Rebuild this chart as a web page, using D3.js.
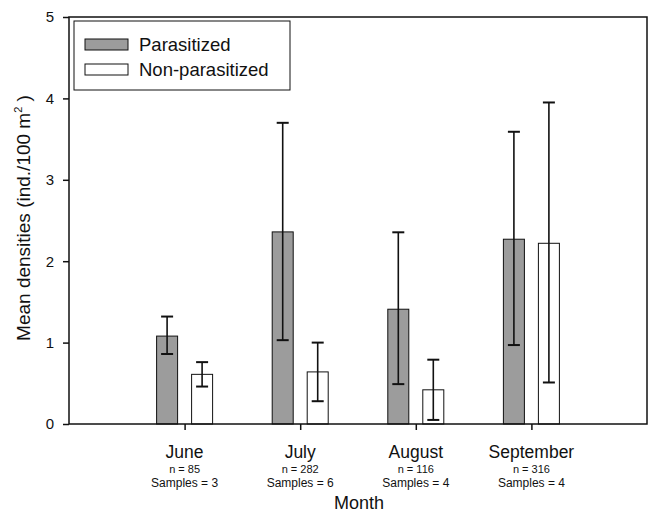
<!DOCTYPE html>
<html><head><meta charset="utf-8">
<script src="https://cdn.jsdelivr.net/npm/d3@7"></script>
<style>body{margin:0;background:#fff}svg{display:block}text{font-family:"Liberation Sans",Arial,sans-serif;fill:#111}</style>
</head><body>
<script>
const months = ["June","July","August","September"];
const nLabels = ["n = 85","n = 282","n = 116","n = 316"];
const sampleLabels = ["Samples = 3","Samples = 6","Samples = 4","Samples = 4"];
const parasitized = [1.08, 2.36, 1.41, 2.27];
const parasitizedHigh = [1.32, 3.70, 2.355, 3.59];
const parasitizedLow = [0.86, 1.03, 0.49, 0.97];
const nonParasitized = [0.61, 0.64, 0.42, 2.22];
const nonParasitizedHigh = [0.76, 1.00, 0.79, 3.95];
const nonParasitizedLow = [0.46, 0.28, 0.05, 0.51];
const yTicks = [0,1,2,3,4,5];
const seriesNames = ["Parasitized","Non-parasitized"];

const W=648,H=512;
const svg=d3.select("body").append("svg").attr("width",W).attr("height",H);
const x=d3.scaleLinear().domain([0,5]).range([69,647]);
const y=d3.scaleLinear().domain([0,5]).range([424,17]);
const barW=21, off=17.5;
const fills=["#9c9c9c","#ffffff"];

const series=[
  {vals:parasitized,hi:parasitizedHigh,lo:parasitizedLow,dx:-off,fill:fills[0]},
  {vals:nonParasitized,hi:nonParasitizedHigh,lo:nonParasitizedLow,dx:off,fill:fills[1]}
];

series.forEach(s=>{
  const g=svg.append("g");
  g.selectAll("rect").data(s.vals).join("rect")
    .attr("x",(d,i)=>x(i+1)+s.dx-barW/2).attr("y",d=>y(d))
    .attr("width",barW).attr("height",d=>y(0)-y(d))
    .attr("fill",s.fill).attr("stroke","#111").attr("stroke-width",1);
  const e=svg.append("g").attr("stroke","#111");
  s.vals.forEach((v,i)=>{
    const cx=x(i+1)+s.dx;
    e.append("line").attr("x1",cx).attr("x2",cx).attr("y1",y(s.hi[i])).attr("y2",y(s.lo[i])).attr("stroke-width",1.6);
    [s.hi[i],s.lo[i]].forEach(t=>{
      e.append("line").attr("x1",cx-6).attr("x2",cx+6).attr("y1",y(t)).attr("y2",y(t)).attr("stroke-width",2);
    });
  });
});

// frame
svg.append("rect").attr("x",69).attr("y",17).attr("width",647-69).attr("height",424-17)
  .attr("fill","none").attr("stroke","#111").attr("stroke-width",1.5);

// y axis
const ya=svg.append("g").attr("transform","translate(69,0)")
  .call(d3.axisLeft(y).tickValues(yTicks).tickFormat(d3.format("d")).tickSize(6).tickPadding(9));
ya.select(".domain").remove();
ya.selectAll("line").attr("stroke","#111").attr("stroke-width",1.5);
ya.selectAll("text").attr("font-size",15).attr("fill","#111").style("font-family","Liberation Sans, Arial, sans-serif");

// x axis ticks
const xa=svg.append("g").attr("transform","translate(0,424)")
  .call(d3.axisBottom(x).tickValues([1,2,3,4]).tickFormat(d=>"").tickSize(6));
xa.select(".domain").remove();
xa.selectAll("line").attr("stroke","#111").attr("stroke-width",1.5);

// category labels
months.forEach((m,i)=>{
  const cx=x(i+1);
  svg.append("text").attr("x",cx).attr("y",458).attr("text-anchor","middle").attr("font-size",17.5).text(m);
  svg.append("text").attr("x",cx).attr("y",473).attr("text-anchor","middle").attr("font-size",11).text(nLabels[i]);
  svg.append("text").attr("x",cx).attr("y",487).attr("text-anchor","middle").attr("font-size",12).text(sampleLabels[i]);
});

// axis titles
svg.append("text").attr("x",359).attr("y",509).attr("text-anchor","middle").attr("font-size",18).text("Month");
const yt=svg.append("text").attr("transform","translate(30,218) rotate(-90)").attr("text-anchor","middle").attr("font-size",19);
yt.append("tspan").text("Mean densities (ind./100 m");
yt.append("tspan").attr("font-size",11).attr("dy",-8).text("2");
yt.append("tspan").attr("dy",8).text(" )");

// legend
svg.append("rect").attr("x",74).attr("y",21).attr("width",216).attr("height",69).attr("fill","#fff").attr("stroke","#111").attr("stroke-width",1);
seriesNames.forEach((n,i)=>{
  const yy=39+i*25;
  svg.append("rect").attr("x",85).attr("y",yy).attr("width",43).attr("height",11).attr("fill",fills[i]).attr("stroke","#111").attr("stroke-width",1);
  svg.append("text").attr("x",139).attr("y",yy+12).attr("font-size",18.5).text(n);
});
</script>
</body></html>
